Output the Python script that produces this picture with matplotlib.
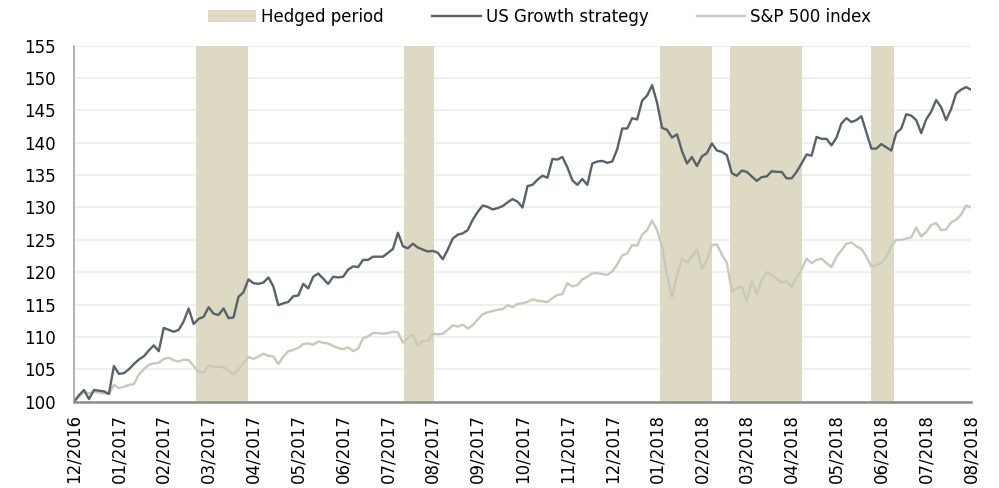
import matplotlib
matplotlib.use("Agg")
import matplotlib.pyplot as plt
import numpy as np
from matplotlib.patches import Patch
from matplotlib.lines import Line2D

plt.rcParams['font.family'] = ['DejaVu Sans']

months = ['12/2016', '01/2017', '02/2017', '03/2017', '04/2017', '05/2017', '06/2017',
          '07/2017', '08/2017', '09/2017', '10/2017', '11/2017', '12/2017', '01/2018',
          '02/2018', '03/2018', '04/2018', '05/2018', '06/2018', '07/2018', '08/2018']

strategy = [
    100.0, 101.0, 101.8, 100.4, 101.8, 101.7, 101.6, 101.2, 105.5, 104.3,
    104.4, 105.0, 105.8, 106.5, 107.0, 107.9, 108.7, 107.8, 111.4, 111.1,
    110.8, 111.1, 112.4, 114.4, 112.0, 112.8, 113.1, 114.6, 113.6, 113.4,
    114.4, 112.9, 113.0, 116.2, 116.9, 118.9, 118.3, 118.2, 118.4, 119.2,
    117.8, 114.9, 115.2, 115.4, 116.3, 116.4, 118.2, 117.5, 119.3, 119.8,
    119.0, 118.2, 119.3, 119.2, 119.3, 120.4, 120.9, 120.8, 121.9, 121.9,
    122.4, 122.4, 122.4, 123.0, 123.6, 126.1, 124.0, 123.7, 124.4, 123.8,
    123.5, 123.2, 123.3, 123.0, 122.0, 123.5, 125.2, 125.8, 126.0, 126.5,
    128.1, 129.3, 130.3, 130.1, 129.7, 129.9, 130.2, 130.8, 131.3, 130.9,
    130.0, 133.3, 133.5, 134.3, 134.9, 134.6, 137.5, 137.4, 137.8, 136.2,
    134.2, 133.5, 134.4, 133.5, 136.8, 137.1, 137.2, 136.9, 137.1, 139.0,
    142.2, 142.2, 143.8, 143.6, 146.5, 147.3, 148.9, 146.2, 142.3, 142.0,
    140.8, 141.3, 138.7, 136.8, 137.8, 136.4, 137.9, 138.4, 139.9, 138.8,
    138.6, 138.1, 135.3, 134.9, 135.7, 135.5, 134.8, 134.1, 134.7, 134.8,
    135.6, 135.5, 135.5, 134.5, 134.5, 135.5, 136.8, 138.2, 138.0, 140.9,
    140.6, 140.6, 139.6, 140.8, 143.0, 143.8, 143.2, 143.5, 144.1, 141.6,
    139.1, 139.1, 139.8, 139.3, 138.8, 141.5, 142.2, 144.4, 144.2, 143.5,
    141.5, 143.6, 144.8, 146.6, 145.5, 143.5, 145.2, 147.6, 148.2, 148.6,
    148.2]

sp500 = [
    100.0, 100.8, 101.5, 101.3, 101.5, 101.4, 101.3, 101.2, 102.6, 102.1,
    102.3, 102.6, 102.7, 104.2, 105.0, 105.7, 105.9, 106.0, 106.6, 106.8,
    106.4, 106.2, 106.5, 106.4, 105.5, 104.6, 104.5, 105.6, 105.4, 105.4,
    105.3, 104.8, 104.2, 105.0, 105.9, 106.9, 106.6, 107.0, 107.4, 107.1,
    107.0, 105.8, 107.0, 107.8, 108.0, 108.3, 108.9, 109.0, 108.8, 109.3,
    109.1, 109.0, 108.6, 108.3, 108.1, 108.4, 107.8, 108.2, 109.8, 110.1,
    110.6, 110.6, 110.5, 110.6, 110.8, 110.7, 109.1, 109.9, 110.4, 108.7,
    109.4, 109.4, 110.5, 110.4, 110.5, 111.1, 111.8, 111.6, 111.9, 111.3,
    111.8, 112.7, 113.5, 113.8, 114.0, 114.2, 114.3, 114.9, 114.6, 115.1,
    115.2, 115.4, 115.8, 115.6, 115.5, 115.4, 116.0, 116.5, 116.6, 118.3,
    117.8, 118.0, 118.9, 119.3, 119.8, 119.9, 119.7, 119.6, 120.1, 121.2,
    122.6, 122.9, 124.2, 124.1, 125.8, 126.5, 128.0, 126.5, 124.0, 119.5,
    116.2, 119.5, 122.1, 121.5, 122.4, 123.5, 120.5, 121.9, 124.2, 124.3,
    122.7, 121.5, 117.0, 117.5, 117.8, 115.5, 118.6, 116.6, 118.8, 120.0,
    119.6, 119.0, 118.4, 118.6, 117.7, 119.2, 120.4, 122.1, 121.4, 121.9,
    122.1, 121.4, 120.8, 122.4, 123.4, 124.4, 124.6, 124.0, 123.6, 122.4,
    120.9, 121.1, 121.4, 122.4, 124.0, 125.0, 125.0, 125.2, 125.4, 126.9,
    125.5, 126.2, 127.3, 127.6, 126.5, 126.6, 127.7, 128.1, 128.9, 130.3,
    130.0]

hedge_start = [24.5, 66.3, 117.6, 131.7, 160.0]
hedge_end = [35.0, 72.3, 128.0, 146.0, 164.6]

C_STRAT = '#56636b'
C_SP = '#c9c9b9'
C_HEDGE = '#ddd9c3'

fig = plt.figure(figsize=(9.99, 4.88), dpi=100)
ax = fig.add_axes([0.0741, 0.1769, 0.8979, 0.7295])

x = np.arange(len(strategy))
for s, e in zip(hedge_start, hedge_end):
    ax.axvspan(s, e, color=C_HEDGE, lw=0, zorder=1)

ax.plot(x, sp500, color=C_SP, lw=1.7, zorder=3, solid_joinstyle='round')
ax.plot(x, strategy, color=C_STRAT, lw=1.7, zorder=4, solid_joinstyle='round')

ax.set_xlim(0, len(strategy) - 1)
ax.set_ylim(100, 155)
ax.set_yticks(np.arange(100, 156, 5))
ax.set_xticks(np.linspace(0, len(strategy) - 1, len(months)))
ax.set_xticklabels(months, rotation=90)
ax.grid(axis='y', color='#efefef', lw=1.5, zorder=0)
ax.set_axisbelow(True)
ax.tick_params(axis='both', length=0, labelsize=12)
ax.tick_params(axis='y', pad=13)
ax.tick_params(axis='x', pad=9)
for sp in ['top', 'right']:
    ax.spines[sp].set_visible(False)
ax.spines['left'].set_color('#a6a6a6')
ax.spines['left'].set_linewidth(1.2)
ax.spines['bottom'].set_color('#8c8c8c')
ax.spines['bottom'].set_linewidth(1.8)
ax.spines['left'].set_zorder(5)
ax.spines['bottom'].set_zorder(5)

handles = [Patch(facecolor=C_HEDGE, edgecolor='none'),
           Line2D([0], [0], color=C_STRAT, lw=1.7),
           Line2D([0], [0], color=C_SP, lw=1.7)]
labels = ['Hedged period', 'US Growth strategy', 'S&P 500 index']
fig.legend(handles, labels, loc='center', bbox_to_anchor=(0.540, 0.965), ncol=3,
           frameon=False, fontsize=12, handlelength=2.9, handleheight=0.75,
           handletextpad=0.3, columnspacing=2.9, borderaxespad=0)

fig.savefig('out.png', dpi=100)
